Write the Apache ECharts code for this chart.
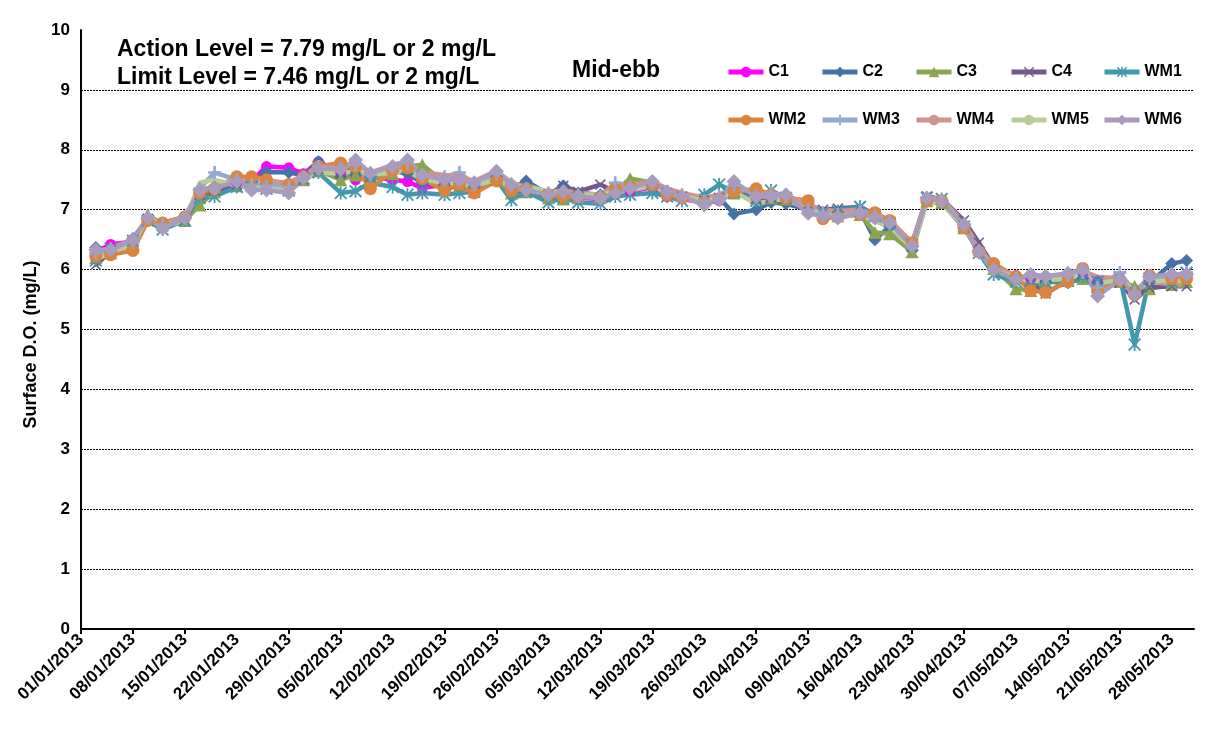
<!DOCTYPE html>
<html lang="en">
<head>
<meta charset="UTF-8">
<title>Mid-ebb Surface D.O.</title>
<script src="https://cdn.jsdelivr.net/npm/echarts@6.0.0/dist/echarts.min.js"></script>
<style>
  html, body { margin: 0; padding: 0; background: #fff; }
  #chart { width: 1209px; height: 740px; }
</style>
</head>
<body>
<div id="chart"></div>
<script type="text/javascript">
// sampling dates (Tue / Thu / Sat)
var dates = [
  '2013-01-03','2013-01-05','2013-01-08','2013-01-10','2013-01-12','2013-01-15','2013-01-17','2013-01-19','2013-01-22','2013-01-24','2013-01-26','2013-01-29','2013-01-31',
  '2013-02-02','2013-02-05','2013-02-07','2013-02-09','2013-02-12','2013-02-14','2013-02-16','2013-02-19','2013-02-21','2013-02-23','2013-02-26','2013-02-28',
  '2013-03-02','2013-03-05','2013-03-07','2013-03-09','2013-03-12','2013-03-14','2013-03-16','2013-03-19','2013-03-21','2013-03-23','2013-03-26','2013-03-28','2013-03-30',
  '2013-04-02','2013-04-04','2013-04-06','2013-04-09','2013-04-11','2013-04-13','2013-04-16','2013-04-18','2013-04-20','2013-04-23','2013-04-25','2013-04-27','2013-04-30',
  '2013-05-02','2013-05-04','2013-05-07','2013-05-09','2013-05-11','2013-05-14','2013-05-16','2013-05-18','2013-05-21','2013-05-23','2013-05-25','2013-05-28','2013-05-30'
];

var c1 = [6.30,6.42,6.47,6.83,6.72,6.85,7.28,7.35,7.45,7.48,7.72,7.70,7.60,7.80,7.62,7.50,7.55,7.50,7.47,7.36,7.42,7.45,7.35,7.55,7.30,7.32,7.22,7.25,7.20,7.18,7.25,7.30,7.38,7.22,7.18,7.12,7.15,7.30,7.20,7.18,7.15,6.98,6.90,6.92,6.95,6.88,6.75,6.42,7.17,7.12,6.70,6.35,6.02,5.90,5.85,5.82,5.88,5.95,5.80,5.85,5.65,5.82,5.88,5.92];
var c2 = [6.37,6.30,6.52,6.85,6.78,6.88,7.30,7.38,7.45,7.45,7.63,7.62,7.58,7.80,7.55,7.58,7.55,7.65,7.60,7.45,7.40,7.42,7.38,7.55,7.35,7.48,7.25,7.40,7.28,7.25,7.30,7.35,7.40,7.28,7.20,7.15,7.20,6.93,7.00,7.12,7.10,7.00,6.92,6.95,6.98,6.50,6.72,6.32,7.20,7.15,6.70,6.32,6.05,5.85,5.72,5.80,5.78,5.85,5.78,5.80,5.55,5.78,6.10,6.15];
var c3 = [6.20,6.28,6.40,6.92,6.75,6.82,7.08,7.30,7.40,7.42,7.40,7.35,7.50,7.65,7.50,7.58,7.50,7.60,7.72,7.75,7.45,7.40,7.35,7.55,7.28,7.30,7.20,7.18,7.20,7.22,7.30,7.52,7.45,7.30,7.25,7.18,7.22,7.28,7.20,7.20,7.18,7.02,6.95,6.90,6.92,6.62,6.60,6.30,7.15,7.12,6.70,6.35,6.02,5.68,5.65,5.80,5.82,5.85,5.72,5.80,5.72,5.68,5.75,5.80];
var c4 = [6.08,6.30,6.45,6.85,6.72,6.82,7.25,7.32,7.42,7.40,7.38,7.35,7.50,7.68,7.62,7.70,7.55,7.68,7.75,7.55,7.45,7.42,7.30,7.58,7.35,7.30,7.25,7.40,7.30,7.42,7.30,7.35,7.42,7.28,7.22,7.15,7.20,7.38,7.18,7.20,7.18,7.05,7.00,7.02,7.05,6.92,6.80,6.40,7.22,7.18,6.82,6.45,6.05,5.85,5.78,5.60,5.82,5.88,5.70,5.78,5.50,5.70,5.72,5.72];
var wm1 = [6.15,6.35,6.48,6.82,6.67,6.82,7.20,7.22,7.38,7.40,7.35,7.32,7.52,7.62,7.28,7.31,7.45,7.38,7.25,7.28,7.25,7.28,7.30,7.50,7.16,7.30,7.12,7.20,7.12,7.10,7.22,7.25,7.28,7.22,7.15,7.25,7.42,7.30,7.15,7.32,7.20,7.02,6.95,6.98,7.05,6.90,6.78,6.42,7.20,7.18,6.72,6.28,5.92,5.80,5.82,5.78,5.82,5.88,5.80,5.88,4.75,5.85,5.80,5.95];
var wm2 = [6.22,6.25,6.32,6.82,6.78,6.88,7.28,7.35,7.55,7.55,7.50,7.42,7.55,7.72,7.78,7.72,7.35,7.65,7.70,7.52,7.32,7.42,7.28,7.48,7.32,7.35,7.25,7.22,7.22,7.20,7.35,7.38,7.42,7.25,7.20,7.12,7.18,7.30,7.35,7.25,7.20,7.15,6.85,6.88,6.92,6.95,6.82,6.45,7.15,7.15,6.70,6.30,6.10,5.88,5.65,5.62,5.80,6.02,5.65,5.82,5.58,5.90,5.85,5.85];
var wm3 = [6.28,6.35,6.45,6.88,6.75,6.88,7.35,7.62,7.50,7.42,7.40,7.38,7.55,7.72,7.70,7.75,7.58,7.70,7.78,7.55,7.55,7.62,7.42,7.60,7.40,7.35,7.28,7.30,7.25,7.22,7.45,7.38,7.45,7.30,7.25,7.15,7.22,7.40,7.25,7.28,7.22,7.00,6.95,6.92,6.98,6.90,6.80,6.42,7.20,7.15,6.75,6.32,6.00,5.85,5.88,5.85,5.90,5.95,5.70,5.95,5.62,5.85,5.90,5.95];
var wm4 = [6.25,6.38,6.48,6.85,6.75,6.88,7.32,7.40,7.50,7.50,7.48,7.45,7.58,7.72,7.70,7.78,7.62,7.75,7.80,7.62,7.58,7.55,7.48,7.65,7.45,7.38,7.30,7.32,7.28,7.25,7.40,7.40,7.48,7.35,7.28,7.20,7.25,7.38,7.28,7.25,7.25,7.08,7.00,6.98,7.00,6.92,6.82,6.45,7.20,7.18,6.78,6.38,6.05,5.90,5.85,5.85,5.90,5.98,5.88,5.85,5.65,5.80,5.75,5.72];
var wm5 = [6.15,6.30,6.40,6.90,6.72,6.82,7.45,7.50,7.40,7.38,7.35,7.32,7.50,7.62,7.60,7.65,7.58,7.62,7.65,7.50,7.45,7.42,7.40,7.50,7.38,7.40,7.30,7.28,7.25,7.25,7.30,7.32,7.40,7.28,7.22,7.15,7.18,7.30,7.10,7.15,7.18,7.00,6.92,6.90,6.90,6.80,6.72,6.35,7.12,7.10,6.72,6.32,5.98,5.88,5.80,5.82,5.85,5.92,5.78,5.82,5.65,5.80,5.82,5.80];
var wm6 = [6.33,6.33,6.50,6.86,6.69,6.86,7.33,7.36,7.47,7.33,7.33,7.28,7.53,7.69,7.67,7.83,7.61,7.72,7.83,7.58,7.50,7.50,7.45,7.64,7.42,7.33,7.25,7.30,7.22,7.19,7.28,7.36,7.47,7.30,7.22,7.08,7.17,7.47,7.22,7.22,7.25,6.94,6.89,6.86,6.94,6.86,6.78,6.39,7.19,7.14,6.75,6.30,6.00,5.83,5.92,5.89,5.94,6.00,5.56,5.83,5.58,5.89,5.92,5.92];

// weekly axis labels, and the ticks that are actually drawn
var labelDates = ['2013-01-01','2013-01-08','2013-01-15','2013-01-22','2013-01-29','2013-02-05','2013-02-12','2013-02-19','2013-02-26','2013-03-05','2013-03-12',
  '2013-03-19','2013-03-26','2013-04-02','2013-04-09','2013-04-16','2013-04-23','2013-04-30','2013-05-07','2013-05-14','2013-05-21','2013-05-28'];
var tickDates = ['2013-01-01','2013-01-08','2013-01-15','2013-01-29','2013-02-05','2013-02-19','2013-02-26','2013-03-12','2013-03-19','2013-04-02','2013-04-09',
  '2013-04-23','2013-04-30','2013-05-14','2013-05-21'];

var DAY = 86400000;
var T0 = Date.UTC(2013, 0, 1);
function toDay(s) {
    var p = s.split('-');
    return (Date.UTC(+p[0], +p[1] - 1, +p[2]) - T0) / DAY;
}
function fmtDay(d) {
    var dt = new Date(T0 + Math.round(d) * DAY);
    var dd = ('0' + dt.getUTCDate()).slice(-2);
    var mm = ('0' + (dt.getUTCMonth() + 1)).slice(-2);
    return dd + '/' + mm + '/' + dt.getUTCFullYear();
}

var xDays = dates.map(toDay);

var P_X = 'path://M1,0L5,4L9,0L10,1L6,5L10,9L9,10L5,6L1,10L0,9L4,5L0,1Z';
var P_STAR = 'path://M1,0L5,4L9,0L10,1L6,5L10,9L9,10L5,6L1,10L0,9L4,5L0,1Z M4.3,0H5.7V10H4.3Z';
var P_PLUS = 'path://M4,0H6V4H10V6H6V10H4V6H0V4H4Z';

var defs = [
    { name: 'C1',  data: c1,  color: '#FF00FF', symbol: 'circle',   size: 11 },
    { name: 'C2',  data: c2,  color: '#4572A7', symbol: 'diamond',  size: 13 },
    { name: 'C3',  data: c3,  color: '#89A54E', symbol: 'triangle', size: 13 },
    { name: 'C4',  data: c4,  color: '#71588F', symbol: P_X,        size: 11 },
    { name: 'WM1', data: wm1, color: '#4198AF', symbol: P_STAR,     size: 13 },
    { name: 'WM2', data: wm2, color: '#DB843D', symbol: 'circle',   size: 13 },
    { name: 'WM3', data: wm3, color: '#93A9CF', symbol: P_PLUS,     size: 13 },
    { name: 'WM4', data: wm4, color: '#D19392', symbol: 'none',     size: 0 },
    { name: 'WM5', data: wm5, color: '#B9CD96', symbol: 'none',     size: 0 },
    { name: 'WM6', data: wm6, color: '#A99BBD', symbol: 'diamond',  size: 15 }
];

var series = defs.map(function (d) {
    return {
        name: d.name,
        type: 'line',
        data: d.data.map(function (v, i) { return [xDays[i], v]; }),
        symbol: d.symbol,
        symbolSize: d.size,
        showSymbol: d.symbol !== 'none',
        color: d.color,
        lineStyle: { width: 4.5, color: d.color },
        itemStyle: { color: d.color },
        emphasis: { disabled: true }
    };
});

// legend: 2 rows x 5 columns
var colX = [721, 815, 909, 1004, 1097];
var rowY = [59, 107];
var legends = defs.map(function (d, i) {
    return {
        data: [d.name],
        left: colX[i % 5],
        top: rowY[Math.floor(i / 5)],
        itemWidth: 35,
        itemHeight: 13,
        itemGap: 2,
        selectedMode: false,
        lineStyle: { width: 5 },
        textStyle: { color: '#000', fontSize: 16, fontWeight: 'bold', fontFamily: 'Arial, Liberation Sans' }
    };
});

var myChart = echarts.init(document.getElementById('chart'), null, { renderer: 'canvas' });

var option = {
    animation: false,
    backgroundColor: '#fff',
    title: [
        {
            text: 'Action Level = 7.79 mg/L or 2 mg/L\nLimit Level = 7.46 mg/L or 2 mg/L',
            left: 117, top: 36, padding: 0,
            textStyle: { color: '#000', fontSize: 23, fontWeight: 'bold', lineHeight: 28, fontFamily: 'Arial, Liberation Sans' }
        },
        {
            text: 'Mid-ebb',
            left: 572, top: 58, padding: 0,
            textStyle: { color: '#000', fontSize: 23, fontWeight: 'bold', lineHeight: 26, fontFamily: 'Arial, Liberation Sans' }
        }
    ],
    legend: legends,
    grid: { left: 81, right: 15, top: 30, bottom: 111, containLabel: false },
    xAxis: {
        type: 'value',
        min: 0,
        max: 150,
        interval: 7,
        axisLine: { show: true, lineStyle: { color: '#000', width: 2 } },
        axisTick: {
            show: true, length: 5,
            customValues: tickDates.map(toDay),
            lineStyle: { color: '#000', width: 2 }
        },
        axisLabel: {
            customValues: labelDates.map(toDay),
            rotate: 45,
            margin: 8,
            color: '#000',
            fontSize: 17,
            fontWeight: 'bold',
            fontFamily: 'Arial, Liberation Sans',
            formatter: fmtDay
        },
        splitLine: { show: false }
    },
    yAxis: {
        type: 'value',
        min: 0,
        max: 10,
        interval: 1,
        name: 'Surface D.O. (mg/L)',
        nameLocation: 'middle',
        nameGap: 40,
        nameTextStyle: { color: '#000', fontSize: 18, fontWeight: 'bold', fontFamily: 'Arial, Liberation Sans', padding: [0, 30, 0, 0] },
        axisLine: { show: true, lineStyle: { color: '#000', width: 2 } },
        axisTick: { show: false },
        axisLabel: { color: '#000', fontSize: 17, fontWeight: 'bold', margin: 11, fontFamily: 'Arial, Liberation Sans' },
        splitLine: { show: true, showMaxLine: false, lineStyle: { color: '#000', width: 1, type: [2, 1] } }
    },
    series: series
};

myChart.setOption(option);
</script>
</body>
</html>
